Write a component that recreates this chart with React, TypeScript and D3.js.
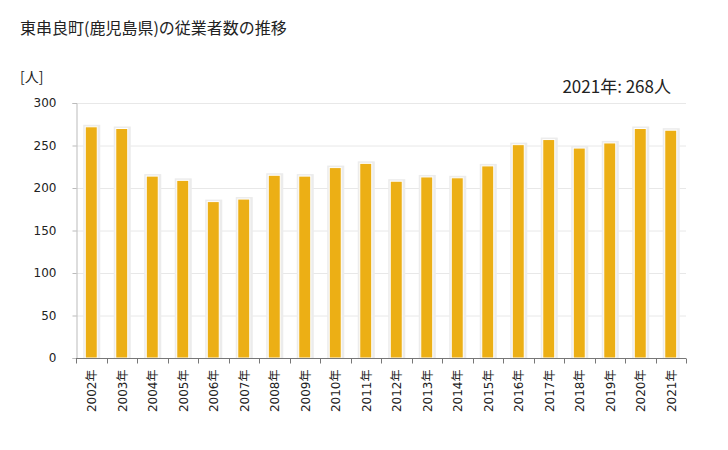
import React, { useEffect, useRef } from 'react'
import * as d3 from 'd3'

const years = ['2002', '2003', '2004', '2005', '2006', '2007', '2008', '2009', '2010', '2011',
  '2012', '2013', '2014', '2015', '2016', '2017', '2018', '2019', '2020', '2021']
const workers = [272, 270, 214, 209, 184, 187, 215, 214, 224, 229,
  208, 213, 212, 226, 251, 257, 247, 253, 270, 268]
const yTicks = [0, 50, 100, 150, 200, 250, 300]

const title = '東串良町(鹿児島県)の従業者数の推移'
const unitLabel = '[人]'
const latestLabel = '2021年: 268人'

const W = 728
const H = 450
const font = '"Noto Sans CJK JP", "Noto Sans", sans-serif'
const numFont = '"DejaVu Sans", "Noto Sans CJK JP", sans-serif'

export default function App() {
  const svgRef = useRef<SVGSVGElement>(null)

  useEffect(() => {
    if (!svgRef.current) return
    const svg = d3.select(svgRef.current)
    svg.selectAll('*').remove()

    const margin = { top: 103, left: 76, right: 42, bottom: 92 }
    const x = d3.scaleBand<string>()
      .domain(years)
      .range([margin.left, W - margin.right])
    const y = d3.scaleLinear()
      .domain([0, 300])
      .range([H - margin.bottom, margin.top])

    // title + labels
    svg.append('text')
      .attr('x', 20).attr('y', 34)
      .attr('font-size', 16).attr('fill', '#222')
      .text(title)
    svg.append('text')
      .attr('x', 20).attr('y', 82)
      .attr('font-size', 14).attr('fill', '#222')
      .text(unitLabel)
    svg.append('text')
      .attr('x', 671).attr('y', 93)
      .attr('text-anchor', 'end')
      .attr('font-size', 17).attr('fill', '#222')
      .text(latestLabel)

    // gridlines
    svg.append('g')
      .selectAll('line')
      .data(yTicks.filter(d => d > 0))
      .join('line')
      .attr('x1', margin.left).attr('x2', W - margin.right)
      .attr('y1', d => y(d) + 0.5).attr('y2', d => y(d) + 0.5)
      .attr('stroke', '#e8e8e8')

    // bars
    const bw = 12
    const bars = svg.append('g')
    bars.selectAll('rect.shadow')
      .data(years)
      .join('rect')
      .attr('class', 'shadow')
      .attr('x', (d) => x(d)! + x.bandwidth() / 2 - bw / 2 - 2)
      .attr('y', (_, i) => y(workers[i]) - 2)
      .attr('width', bw + 5)
      .attr('height', (_, i) => y(0) - y(workers[i]) + 2)
      .attr('fill', '#ececec')
    bars.selectAll('rect.bar')
      .data(years)
      .join('rect')
      .attr('class', 'bar')
      .attr('x', (d) => x(d)! + x.bandwidth() / 2 - bw / 2)
      .attr('y', (_, i) => y(workers[i]))
      .attr('width', bw)
      .attr('height', (_, i) => y(0) - y(workers[i]))
      .attr('fill', '#ecaf15')
      .attr('stroke', '#fff')
      .attr('stroke-width', 1)

    // y axis
    const yAxis = svg.append('g')
      .attr('transform', `translate(${margin.left + 0.5},0)`)
      .call(d3.axisLeft(y).tickValues(yTicks).tickSize(4).tickPadding(16))
    yAxis.select('.domain').attr('stroke', '#bbb')
    yAxis.selectAll('.tick line').attr('stroke', '#bbb')
    yAxis.selectAll('.tick text')
      .attr('font-size', 12).attr('font-family', numFont).attr('fill', '#222')

    // x axis
    const xg = svg.append('g')
      .attr('transform', `translate(0,${y(0) + 0.5})`)
    xg.append('line')
      .attr('x1', margin.left).attr('x2', W - margin.right)
      .attr('stroke', '#777')
    xg.selectAll('line.tk')
      .data([...years.map(d => x(d)!), W - margin.right])
      .join('line')
      .attr('class', 'tk')
      .attr('x1', d => Math.round(d) + 0.5).attr('x2', d => Math.round(d) + 0.5)
      .attr('y1', 0).attr('y2', 5)
      .attr('stroke', '#777')
    xg.selectAll('text')
      .data(years)
      .join('text')
      .attr('transform', d => `translate(${x(d)! + x.bandwidth() / 2 + 5},11) rotate(-90)`)
      .attr('text-anchor', 'end')
      .attr('font-size', 12)
      .attr('font-family', numFont)
      .attr('fill', '#222')
      .text(d => `${d}年`)
  }, [])

  return (
    <svg ref={svgRef} width={W} height={H}
      style={{ display: 'block', margin: -8, fontFamily: font, background: '#fff' }} />
  )
}
